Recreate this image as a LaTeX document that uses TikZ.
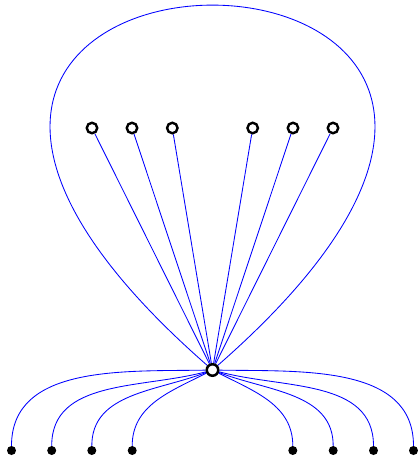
\documentclass[tikz,border=0pt]{standalone}
\usetikzlibrary{backgrounds}
\begin{document}
\begin{tikzpicture}[x=1pt,y=1pt,
  hollow/.style={circle,draw=black,fill=white,line width=2.4pt,minimum size=10.5pt,inner sep=0pt},
  hub/.style={circle,draw=black,fill=white,line width=2.5pt,minimum size=11.5pt,inner sep=0pt},
  leaf/.style={circle,fill=black,minimum size=9pt,inner sep=0pt},
  wire/.style={draw=blue,line width=0.85pt}]
\useasboundingbox (0,0) rectangle (418,-456);
\node[hub] (c) at (212.5,-370) {};
\node[hollow] (t1) at (92,-128) {};
\node[hollow] (t2) at (132,-128) {};
\node[hollow] (t3) at (172.3,-128) {};
\node[hollow] (t4) at (252.7,-128) {};
\node[hollow] (t5) at (293,-128) {};
\node[hollow] (t6) at (333,-128) {};
\node[leaf] (b1) at (11.5,-450.5) {};
\node[leaf] (b2) at (51.7,-450.5) {};
\node[leaf] (b3) at (91.8,-450.5) {};
\node[leaf] (b4) at (132.2,-450.5) {};
\node[leaf] (b5) at (292.8,-450.5) {};
\node[leaf] (b6) at (333.2,-450.5) {};
\node[leaf] (b7) at (373.5,-450.5) {};
\node[leaf] (b8) at (413.5,-450.5) {};
\begin{scope}[on background layer]
\draw[wire] (c) .. controls (-341.5,115) and (766.5,115) .. (c);
\foreach \t in {t1,t2,t3,t4,t5,t6} \draw[wire] (c) -- (\t);
\draw[wire] (c) to[out=181,in=90] (b1);
\draw[wire] (c) to[out=195,in=90] (b2);
\draw[wire] (c) to[out=201,in=90] (b3);
\draw[wire] (c) to[out=207,in=90] (b4);
\draw[wire] (c) to[out=-27,in=90] (b5);
\draw[wire] (c) to[out=-21,in=90] (b6);
\draw[wire] (c) to[out=-15,in=90] (b7);
\draw[wire] (c) to[out=-1,in=90] (b8);
\end{scope}
\end{tikzpicture}
\end{document}
